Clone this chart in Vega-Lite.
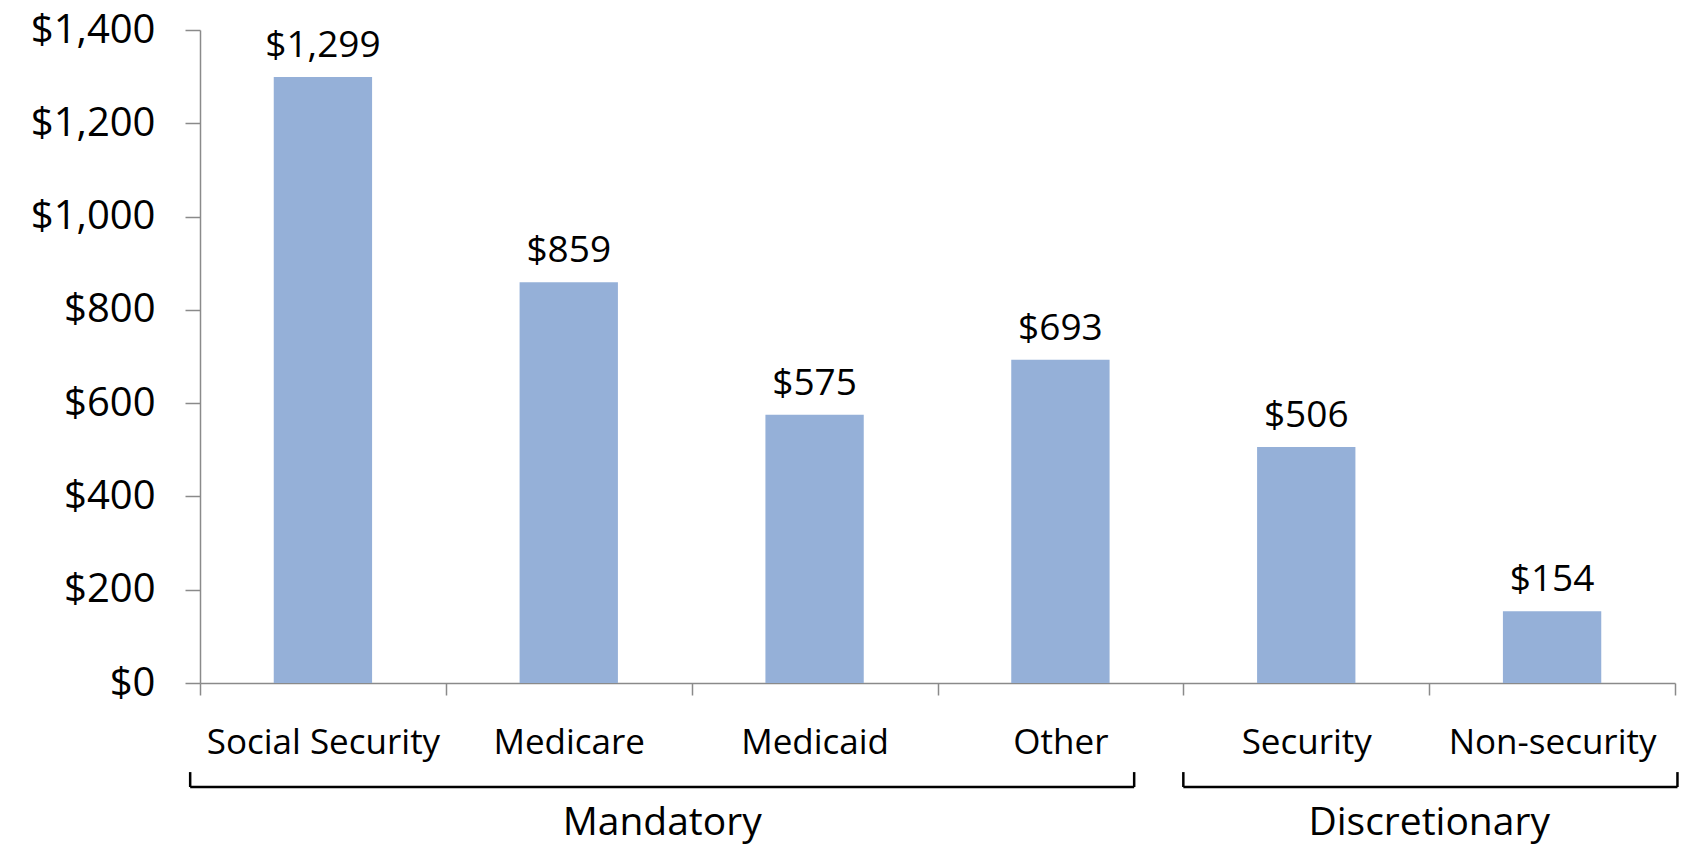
{
  "$schema": "https://vega.github.io/schema/vega-lite/v6.json",
  "width": 1475,
  "height": 653,
  "autosize": {"type": "none"},
  "padding": {"left": 200, "top": 30, "right": 8, "bottom": 164},
  "background": "white",
  "config": {"view": {"stroke": null}, "font": "Open Sans", "axis": {"grid": false}},
  "datasets": {
    "spend": [
      {"category": "Social Security", "value": 1299},
      {"category": "Medicare", "value": 859},
      {"category": "Medicaid", "value": 575},
      {"category": "Other", "value": 693},
      {"category": "Security", "value": 506},
      {"category": "Non-security", "value": 154}
    ],
    "groups": [
      {"group": "Mandatory", "start": -0.04, "end": 3.8, "mid": 1.88},
      {"group": "Discretionary", "start": 4.0, "end": 6.01, "mid": 5.0}
    ]
  },
  "layer": [
    {
      "data": {"name": "spend"},
      "layer": [
        {
          "mark": {"type": "bar", "width": {"band": 0.4}, "color": "#95B0D8"},
          "encoding": {
            "x": {
              "field": "category", "type": "nominal", "sort": null,
              "scale": {"paddingInner": 0, "paddingOuter": 0},
              "axis": {
                "title": null, "labelAngle": 0, "labelFontSize": 35, "labelColor": "black",
                "labelBaseline": "alphabetic", "labelPadding": 58, "labelLimit": 500,
                "tickBand": "extent", "tickSize": 12, "tickColor": "#8a8a8a", "tickWidth": 1.5,
                "domainColor": "#8a8a8a", "domainWidth": 1.5
              }
            },
            "y": {
              "field": "value", "type": "quantitative",
              "scale": {"domain": [0, 1400], "nice": false},
              "axis": {
                "title": null, "values": [0, 200, 400, 600, 800, 1000, 1200, 1400],
                "format": "$,d", "labelFontSize": 40, "labelColor": "black",
                "tickSize": 15, "labelPadding": 30, "tickColor": "#8a8a8a", "tickWidth": 1.5,
                "domainColor": "#8a8a8a", "domainWidth": 1.5
              }
            }
          }
        },
        {
          "mark": {"type": "text", "baseline": "alphabetic", "dy": -20, "fontSize": 37, "color": "black"},
          "encoding": {
            "x": {"field": "category", "type": "nominal", "sort": null},
            "y": {"field": "value", "type": "quantitative"},
            "text": {"field": "value", "type": "quantitative", "format": "$,d"}
          }
        }
      ]
    },
    {
      "data": {"name": "groups"},
      "layer": [
        {
          "mark": {"type": "rule", "color": "black", "strokeWidth": 2.5},
          "encoding": {
            "x": {"field": "start", "type": "quantitative", "scale": {"domain": [0, 6], "nice": false, "zero": false}, "axis": null},
            "x2": {"field": "end"},
            "y": {"datum": -223, "type": "quantitative", "scale": {"domain": [0, 1400], "nice": false}, "axis": null}
          }
        },
        {
          "mark": {"type": "rule", "color": "black", "strokeWidth": 2.5},
          "encoding": {
            "x": {"field": "start", "type": "quantitative"},
            "y": {"datum": -191, "type": "quantitative"},
            "y2": {"datum": -223}
          }
        },
        {
          "mark": {"type": "rule", "color": "black", "strokeWidth": 2.5},
          "encoding": {
            "x": {"field": "end", "type": "quantitative"},
            "y": {"datum": -191, "type": "quantitative"},
            "y2": {"datum": -223}
          }
        },
        {
          "mark": {"type": "text", "baseline": "alphabetic", "fontSize": 39, "color": "black"},
          "encoding": {
            "x": {"field": "mid", "type": "quantitative"},
            "y": {"datum": -326, "type": "quantitative"},
            "text": {"field": "group", "type": "nominal"}
          }
        }
      ]
    }
  ],
  "resolve": {"scale": {"x": "independent", "y": "independent"}}
}
